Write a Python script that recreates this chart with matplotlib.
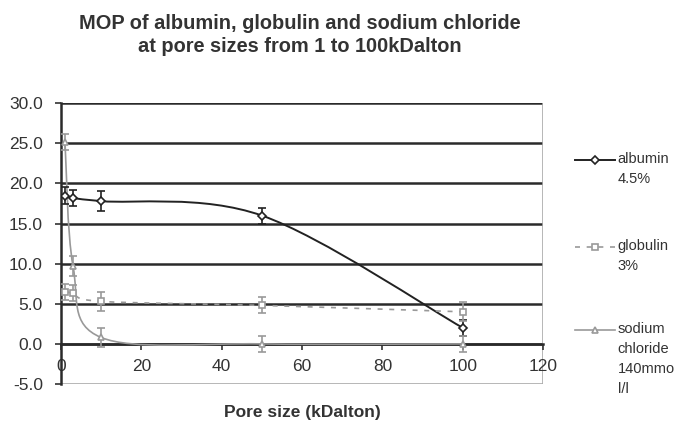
import numpy as np
import matplotlib
matplotlib.use("Agg")
import matplotlib.pyplot as plt
from matplotlib.path import Path
from matplotlib.patches import PathPatch
from matplotlib.lines import Line2D

plt.rcParams['font.family'] = ['Liberation Sans', 'DejaVu Sans']

# pore sizes (kDalton)
pore = [1, 3, 10, 50, 100]

# MOP values and error bars
albumin = [18.5, 18.2, 17.8, 16.0, 2.0]
albumin_err = [1.0, 1.0, 1.2, 1.0, 1.0]
globulin = [6.5, 6.3, 5.3, 4.8, 4.0]
globulin_err = [1.0, 1.0, 1.2, 1.0, 1.2]
sodium = [25.2, 9.7, 0.8, 0.0, 0.0]
sodium_err = [1.0, 1.2, 1.2, 1.0, 1.0]

labels = ["albumin\n4.5%", "globulin\n3%", "sodium\nchloride\n140mmo\nl/l"]

x_ticks = [0, 20, 40, 60, 80, 100, 120]
y_ticks = [-5, 0, 5, 10, 15, 20, 25, 30]


def smooth_path(x, y):
    """Excel-like smoothed line: cubic bezier through the points (catmull-rom control points)"""
    pts = np.column_stack([x, y]).astype(float)
    n = len(pts)
    verts = [pts[0]]
    codes = [Path.MOVETO]
    for i in range(n - 1):
        p0 = pts[max(i - 1, 0)]
        p1 = pts[i]
        p2 = pts[i + 1]
        p3 = pts[min(i + 2, n - 1)]
        verts += [p1 + (p2 - p0) / 6, p2 - (p3 - p1) / 6, p2]
        codes += [Path.CURVE4] * 3
    return Path(verts, codes)


fig = plt.figure(figsize=(6.85, 4.26), dpi=100)
ax = fig.add_axes([0.089, 0.0986, 0.704, 0.659])

ax.set_xlim(0, 120)
ax.set_ylim(-5, 30)

# horizontal gridlines
for yv in y_ticks[1:]:
    ax.axhline(yv, color='#2a2a2a', lw=1.8, zorder=1)
ax.axhline(-5, color='#aaaaaa', lw=1.2, zorder=1)
ax.axvline(120, color='#aaaaaa', lw=1.2, zorder=1)

series = [
    (albumin, albumin_err, '#222222', '-', 'D', 1.4, 4),
    (globulin, globulin_err, '#999999', (0, (3, 4)), 's', 1.2, 5),
    (sodium, sodium_err, '#999999', '-', '^', 1.2, 5),
]

for vals, err, col, ls, mk, lw, ms in series:
    ax.add_patch(PathPatch(smooth_path(pore, vals), fill=False, edgecolor=col,
                           lw=lw, linestyle=ls, zorder=3))
    ax.errorbar(pore, vals, yerr=err, fmt='none', ecolor=col, elinewidth=1.2,
                capsize=3, capthick=1.2, zorder=4)
    ax.plot(pore, vals, linestyle='none', marker=mk, ms=ms, mfc='white',
            mec=col, mew=1.2, zorder=5)

# axes styling: x axis crosses at y=0
for s in ['top', 'right']:
    ax.spines[s].set_visible(False)
ax.spines['bottom'].set_position(('data', 0))
ax.spines['bottom'].set_color('#2a2a2a')
ax.spines['bottom'].set_linewidth(1.8)
ax.spines['left'].set_color('#2a2a2a')
ax.spines['left'].set_linewidth(1.8)

ax.set_xticks(x_ticks)
ax.set_yticks(y_ticks)
ax.set_yticklabels([f"{v:.1f}" for v in y_ticks])
ax.tick_params(axis='x', direction='out', length=4, width=1.2, pad=7,
               labelsize=12.5, colors='#333333')
ax.tick_params(axis='y', direction='out', length=4, width=1.2, pad=9,
               labelsize=12.5, colors='#333333')

ax.set_xlabel('Pore size (kDalton)', fontsize=12.5, fontweight='bold',
              color='#333333', labelpad=22)

fig.text(0.437, 0.968, 'MOP of albumin, globulin and sodium chloride\nat pore sizes from 1 to 100kDalton',
         ha='center', va='top', fontsize=14.4, fontweight='bold', color='#333333',
         linespacing=1.3)

# legend drawn by hand so the sample sits next to the first text line
leg_y = [0.624, 0.420, 0.226]
for (vals, err, col, ls, mk, lw, ms), lab, yy in zip(series, labels, leg_y):
    fig.add_artist(Line2D([0.839, 0.898], [yy, yy], transform=fig.transFigure,
                          color=col, linestyle=ls, lw=lw))
    fig.add_artist(Line2D([0.8685], [yy], transform=fig.transFigure,
                          marker=mk, ms=ms, mfc='white', mec=col, mew=1.2))
    fig.text(0.902, yy + 0.019, lab, ha='left', va='top', fontsize=10.5,
             color='#333333', linespacing=1.55)

fig.savefig('out.png', dpi=100)
